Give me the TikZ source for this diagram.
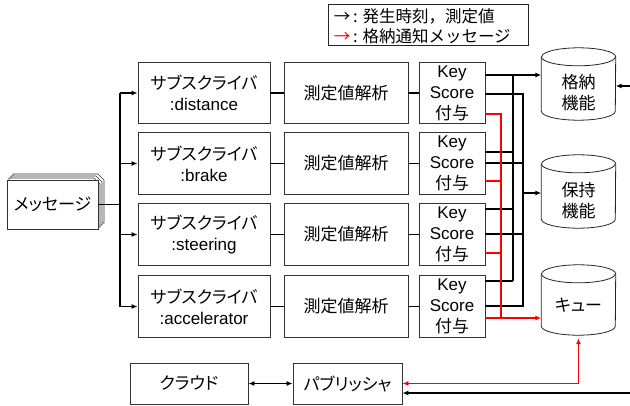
\documentclass[tikz,border=0pt]{standalone}
\usepackage{fontspec}
\setmainfont{Liberation Sans}
\newfontfamily\jp[RawFeature=+palt]{Noto Sans CJK JP}
\newfontfamily\jpf{Noto Sans CJK JP}
\usetikzlibrary{arrows.meta,calc}
\newcommand\mycyl[1]{%
  \draw[cylst] ($(#1.north west)+(0,9)$) -- ($(#1.south west)+(0,-9)$)
    arc[start angle=180,end angle=360,x radius=37pt,y radius=9pt]
    -- ($(#1.north east)+(0,9)$)
    arc[start angle=0,end angle=180,x radius=37pt,y radius=9pt] -- cycle;
  \draw[cylst] ($(#1.north west)+(0,9)$)
    arc[start angle=180,end angle=360,x radius=37pt,y radius=9pt];}
\begin{document}
\begin{tikzpicture}[x=1pt,y=-1pt,
  txt/.style={align=center, inner sep=0pt, font=\fontsize{17}{21}\selectfont},
  box/.style={txt, draw=black!80, line width=0.8pt, fill=white},
  subbox/.style={box, minimum width=132pt, minimum height=61.5pt},
  anabox/.style={box, minimum width=124pt, minimum height=61.5pt},
  keybox/.style={box, minimum width=66pt, minimum height=61.5pt},
  cylst/.style={draw=black!85, line width=0.8pt, fill=white},
  conn/.style={line width=1.2pt},
  arr/.style={-{Latex[length=6pt,width=5pt]}, line width=1.3pt},
  bus/.style={line width=1.5pt},
  redl/.style={red, line width=1.5pt},
  redarr/.style={red, line width=1.5pt, -{Latex[length=6pt,width=5pt]}}]
\useasboundingbox (0,0) rectangle (630,405);

% legend
\node[draw=black!85, line width=0.8pt, minimum width=200pt, minimum height=41pt, inner sep=0pt] (leg) at (428,25) {};
\node[anchor=west, align=left, inner sep=0pt, font=\fontsize{16.5}{20}\selectfont\jpf] (legt) at ([xshift=6pt,yshift=-1pt]leg.west)
  {→\,: 発生時刻，測定値\\{\color{red}→}\,: 格納通知メッセージ};

% message (stacked pages)
\foreach \k in {6,4,2}{
  \draw[draw=black!80, line width=0.7pt, fill=white] (7+\k,180-\k) -- (92+\k,180-\k) -- (98+\k,186-\k) -- (98+\k,229-\k) -- (7+\k,229-\k) -- cycle;
}
\node[box, minimum width=91pt, minimum height=49pt] (msg) at (52.5,204.5) {\jp メッセージ};

% rows
\node[subbox] (sub1) at (204,93) {{\jp サブスクライバ}\\:distance};
\node[subbox] (sub2) at (204,163.5) {{\jp サブスクライバ}\\:brake};
\node[subbox] (sub3) at (204,234.5) {{\jp サブスクライバ}\\:steering};
\node[subbox] (sub4) at (204,306.5) {{\jp サブスクライバ}\\:accelerator};
\foreach \i/\y in {1/93,2/163.5,3/234.5,4/306.5}{
  \node[anabox] (ana\i) at (346,\y) {\jp 測定値解析};
  \node[keybox] (key\i) at (452,\y) {Key\\Score\\{\jp 付与}};
  \draw[conn] (sub\i) -- (ana\i);
  \draw[conn] (ana\i) -- (key\i);
}

% trunk
\coordinate (tr) at (120,204.5);
\draw[bus] (msg.east) -- (tr);
\draw[bus] (tr |- sub1.west) -- (tr |- sub4.west);
\foreach \i in {1,2,3,4}{
  \draw[arr] (tr |- sub\i.west) -- (sub\i.west);
}

% cylinders
\node[minimum width=74pt, minimum height=72pt, inner sep=0pt] (cyl1) at (578.5,84) {};
\mycyl{cyl1}
\node[txt] (cyl1t) at ([yshift=-9pt]cyl1.center) {\jp 格納\\\jp 機能};
\node[minimum width=74pt, minimum height=73pt, inner sep=0pt] (cyl2) at (578.5,191.5) {};
\mycyl{cyl2}
\node[txt] (cyl2t) at ([yshift=-9pt]cyl2.center) {\jp 保持\\\jp 機能};
\node[minimum width=74pt, minimum height=70pt, inner sep=0pt] (cyl3) at (578.5,300) {};
\mycyl{cyl3}
\node[txt] (cyl3t) at ([yshift=-5pt]cyl3.center) {\jp キュー};

% bus: top outputs -> x=513
\coordinate (ba) at (513,75);
\coordinate (bb) at (523,94);
\coordinate (bc) at (501,114);
\draw[arr, line width=1.6pt] (key1.east |- ba) -- (cyl1.west |- ba);
\draw[bus] (ba) -- (513,281);
\draw[bus] (key2.east |- 0,152) -- (513,152);
\draw[bus] (key3.east |- 0,209) -- (513,209);
\draw[bus] (key4.east |- 0,281) -- (513,281);
% middle outputs -> x=523
\draw[bus] (key1.east |- bb) -- (bb) -- (523,306) -- (key4.east |- 0,306);
\draw[bus] (key2.east |- 0,163) -- (523,163);
\draw[bus] (key3.east |- 0,234) -- (523,234);
\draw[arr] (523,193) -- (cyl2.west |- 0,193);
% red outputs -> x=501
\draw[redl] (key1.east |- bc) -- (bc) -- (501,318);
\draw[redl] (key2.east |- 0,181) -- (501,181);
\draw[redl] (key3.east |- 0,253) -- (501,253);
\draw[redl] (key4.east |- 0,318) -- (501,318);
\draw[redarr] (501,318) -- (cyl3.west |- 0,318);

% incoming arrow to storage
\coordinate (in1) at (630,86);
\draw[arr] (in1) -- (cyl1.east |- in1);

% bottom
\node[box, minimum width=118pt, minimum height=41pt] (cloud) at (189,383.5) {\jp クラウド};
\node[box, minimum width=109pt, minimum height=41pt] (pub) at (347.5,383.5) {\jp パブリッシャ};
\draw[{Latex[length=6pt,width=5pt]}-{Latex[length=6pt,width=5pt]}, line width=1.3pt] (cloud.east) -- (pub.west);
\draw[red, line width=1.7pt, {Latex[length=6pt,width=5pt]}-{Latex[length=6pt,width=5pt]}] (pub.east) -| ([yshift=-3pt]cyl3.south);
\coordinate (in2) at (630,393);
\draw[arr] (in2) -- (pub.east |- in2);
\end{tikzpicture}
\end{document}
